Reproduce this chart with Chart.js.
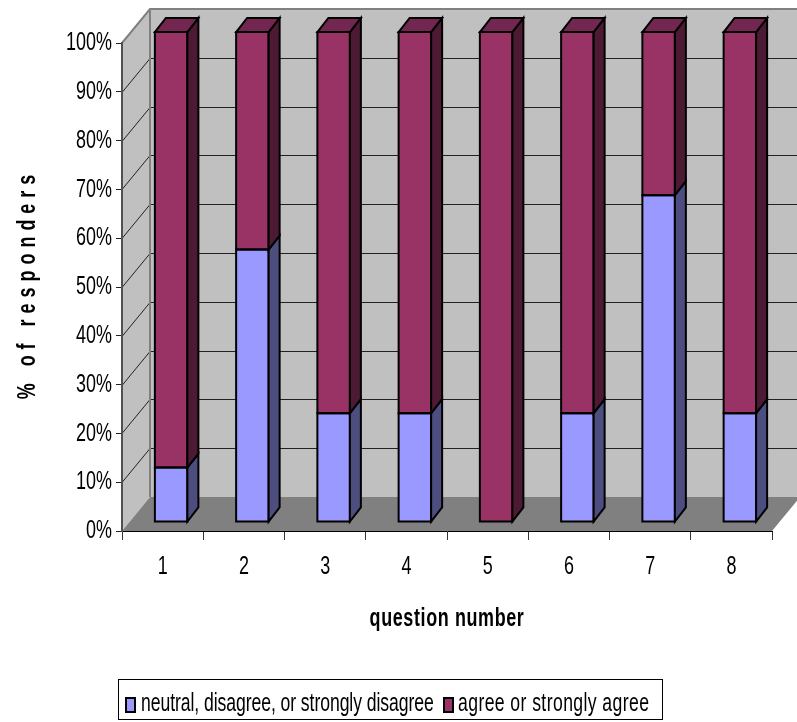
<!DOCTYPE html>
<html>
<head>
<meta charset="utf-8">
<title>Responses by question</title>
<script src="https://cdn.jsdelivr.net/npm/chart.js@4/dist/chart.umd.min.js"></script>
<style>
    html, body { margin: 0; padding: 0; background: #fff; }
    canvas { display: block; }
</style>
</head>
<body>
<canvas id="chart" width="797" height="722"></canvas>
<script>
const questions = ['1', '2', '3', '4', '5', '6', '7', '8'];
const neutralDisagree = [11.1, 55.6, 22.2, 22.2, 0, 22.2, 66.7, 22.2];
const agree = [88.9, 44.4, 77.8, 77.8, 100, 77.8, 33.3, 77.8];
const neutralLabel = 'neutral, disagree, or strongly disagree';
const agreeLabel = 'agree or strongly agree';
const yTicks = [0, 10, 20, 30, 40, 50, 60, 70, 80, 90, 100];

const FONT = '"Liberation Sans", Arial, sans-serif';
const TEXT_SQUEEZE = 0.69;             // no narrow font here, so the text gets squeezed
const WALL = { dx: 28, dy: -34 };      // depth of the back wall
const BAR_SHIFT = { dx: 8.5, dy: -9, stretch: 1.004 }; // bars stand in the middle of the floor
const BAR_DEPTH = { dx: 11, dy: -14 };

const sideColors = ['#4d4d80', '#4d1a33'];
const topColors = ['#7a7acc', '#732650'];

const canvas = document.getElementById('chart');
const context = canvas.getContext('2d');
const plainFillText = context.fillText.bind(context);
context.fillText = function (text, x, y) {
    context.save();
    context.translate(x, y);
    context.scale(TEXT_SQUEEZE, 1);
    plainFillText(text, 0, 0);
    context.restore();
};

function poly(ctx, pts, fill, stroke, lineWidth) {
    ctx.beginPath();
    pts.forEach((p, i) => i ? ctx.lineTo(p[0], p[1]) : ctx.moveTo(p[0], p[1]));
    ctx.closePath();
    if (fill) { ctx.fillStyle = fill; ctx.fill(); }
    if (stroke) { ctx.strokeStyle = stroke; ctx.lineWidth = lineWidth; ctx.stroke(); }
}

function spaceTitle(scale, spacing, shiftY) {
    if (scale.spacedTitle) return;
    const drawTitle = scale.drawTitle;
    scale.drawTitle = function () {
        const ctx = scale.ctx;
        ctx.save();
        ctx.letterSpacing = spacing;
        ctx.translate(0, shiftY);
        drawTitle.call(scale);
        ctx.restore();
    };
    scale.spacedTitle = true;
}

const walls = {
    id: 'walls',
    beforeDraw(chart) {
        const { ctx, chartArea: a, scales: { x, y } } = chart;
        const { dx, dy } = WALL;
        ctx.save();
        poly(ctx, [[a.left, a.top], [a.left + dx, a.top + dy], [a.left + dx, a.bottom + dy], [a.left, a.bottom]], '#c0c0c0');
        poly(ctx, [[a.left + dx, a.top + dy], [a.right + dx, a.top + dy], [a.right + dx, a.bottom + dy], [a.left + dx, a.bottom + dy]], '#c0c0c0');
        poly(ctx, [[a.left, a.bottom], [a.right, a.bottom], [a.right + dx, a.bottom + dy], [a.left + dx, a.bottom + dy]], '#808080');

        // grid lines run along the side wall and then the back wall
        ctx.strokeStyle = '#222';
        ctx.lineWidth = 1;
        yTicks.slice(1, -1).forEach(v => {
            const py = Math.round(y.getPixelForValue(v)) + 0.5;
            ctx.beginPath();
            ctx.moveTo(a.left, py);
            ctx.lineTo(a.left + dx, py + dy);
            ctx.lineTo(a.right + dx, py + dy);
            ctx.stroke();
        });

        ctx.strokeStyle = '#808080';
        ctx.lineWidth = 2;
        ctx.beginPath();
        ctx.moveTo(a.left, a.top);
        ctx.lineTo(a.left + dx, a.top + dy);
        ctx.lineTo(a.right + dx, a.top + dy);
        ctx.moveTo(a.left + dx, a.top + dy);
        ctx.lineTo(a.left + dx, a.bottom + dy);
        ctx.stroke();
        ctx.restore();

        // the title options have no letter spacing of their own
        spaceTitle(y, '8.7px', -3);
        spaceTitle(x, '0.9px', 0);
    },
    beforeDatasetsDraw(chart) {
        const { ctx, chartArea: a } = chart;
        ctx.save();
        ctx.translate(BAR_SHIFT.dx, a.bottom + BAR_SHIFT.dy);
        ctx.scale(1, BAR_SHIFT.stretch);
        ctx.translate(0, -a.bottom);
    },
    afterDatasetsDraw(chart) {
        const ctx = chart.ctx;
        const { dx, dy } = BAR_DEPTH;
        chart.data.datasets.forEach((ds, i) => {
            chart.getDatasetMeta(i).data.forEach((bar, j) => {
                if (!ds.data[j]) return;
                const left = bar.x - bar.width / 2;
                const right = bar.x + bar.width / 2;
                const top = Math.min(bar.y, bar.base);
                const bottom = Math.max(bar.y, bar.base);
                poly(ctx, [[left, top], [right, top], [right, bottom], [left, bottom]], null, '#000', 2);
                poly(ctx, [[right, top], [right + dx, top + dy], [right + dx, bottom + dy], [right, bottom]], sideColors[i], '#000', 2);
                if (i === chart.data.datasets.length - 1) {
                    poly(ctx, [[left, top], [left + dx, top + dy], [right + dx, top + dy], [right, top]], topColors[i], '#000', 2);
                }
            });
        });
        ctx.restore();
    },
    afterDraw(chart) {
        // legend in a plain frame, spacing as in the original
        const ctx = chart.ctx;
        ctx.save();
        ctx.strokeStyle = '#000';
        ctx.lineWidth = 1;
        ctx.strokeRect(118.5, 679.5, 544, 40);
        ctx.font = '25.5px ' + FONT;
        ctx.textBaseline = 'middle';
        const items = [
            { x: 126, gap: 15, spacing: '-0.1px', ds: chart.data.datasets[0] },
            { x: 444, gap: 14, spacing: '0.6px', ds: chart.data.datasets[1] }
        ];
        items.forEach(({ x, gap, spacing, ds }) => {
            ctx.fillStyle = ds.backgroundColor;
            ctx.fillRect(x, 698, 9, 14);
            ctx.lineWidth = 2;
            ctx.strokeRect(x, 698, 9, 14);
            ctx.fillStyle = '#000';
            ctx.letterSpacing = spacing;
            ctx.fillText(ds.label, x + gap, 704);
        });
        ctx.restore();
    }
};

new Chart(canvas, {
    type: 'bar',
    data: {
        labels: questions,
        datasets: [
            { label: neutralLabel, data: neutralDisagree, backgroundColor: '#9999ff' },
            { label: agreeLabel, data: agree, backgroundColor: '#993366' }
        ]
    },
    options: {
        responsive: false,
        animation: false,
        layout: { padding: { top: 43, right: 25, bottom: 88, left: 0 } },
        datasets: {
            bar: {
                borderWidth: 0,
                categoryPercentage: 0.4,
                barPercentage: 1,
                clip: false
            }
        },
        plugins: { legend: { display: false }, tooltip: { enabled: false } },
        scales: {
            x: {
                stacked: true,
                afterFit: scale => { scale.height = 103; },
                grid: { drawOnChartArea: false, tickLength: 9, color: '#333', lineWidth: 1 },
                border: { color: '#000', width: 1 },
                ticks: { color: '#000', padding: 11, maxRotation: 0, font: { family: FONT, size: 26 } },
                title: {
                    display: true,
                    text: 'question number',
                    color: '#000',
                    padding: { top: 14, bottom: 0 },
                    font: { family: FONT, size: 26, weight: 'bold' }
                }
            },
            y: {
                stacked: true,
                min: 0,
                max: 100,
                afterFit: scale => { scale.width = 122; },
                afterBuildTicks: scale => { scale.ticks = yTicks.map(value => ({ value })); },
                grid: { drawOnChartArea: false, tickLength: 6, color: '#222', lineWidth: 1 },
                border: { color: '#505050', width: 2 },
                ticks: {
                    color: '#000',
                    padding: 4,
                    font: { family: FONT, size: 26 },
                    callback: value => value + '%'
                },
                title: {
                    display: true,
                    text: '% of responders',
                    color: '#000',
                    padding: { top: 12, bottom: 0 },
                    font: { family: FONT, size: 26, weight: 'bold' }
                }
            }
        }
    },
    plugins: [walls]
});
</script>
</body>
</html>
